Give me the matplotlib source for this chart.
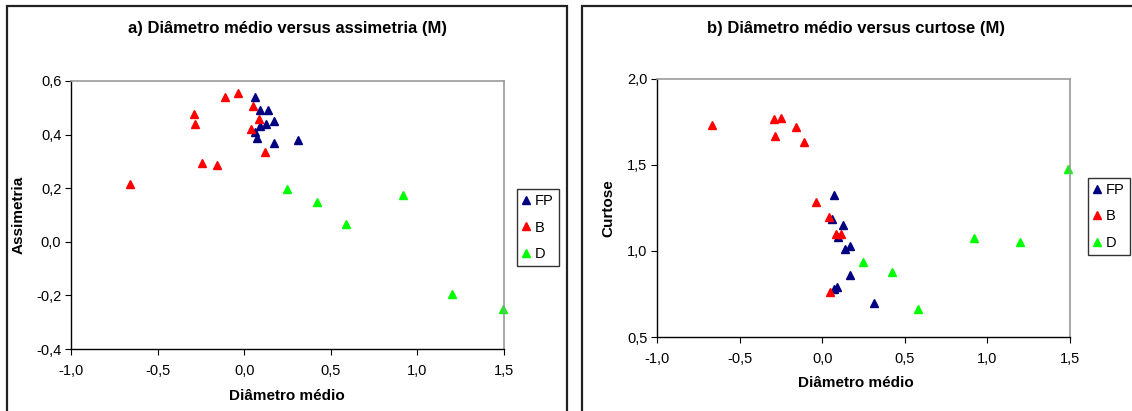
import matplotlib
matplotlib.use("Agg")
import matplotlib.pyplot as plt
from matplotlib.patches import Rectangle
from matplotlib.ticker import FuncFormatter, MultipleLocator

plt.rcParams['font.family'] = ['Liberation Sans', 'DejaVu Sans']

# Panel a) diameter vs skewness
fp_x_a = [0.064, 0.093, 0.139, 0.170, 0.124, 0.093, 0.062, 0.072, 0.170, 0.312]
fp_y_a = [0.539, 0.491, 0.491, 0.452, 0.438, 0.432, 0.409, 0.387, 0.370, 0.380]
b_x_a = [-0.661, -0.292, -0.284, -0.245, -0.155, -0.111, -0.034, 0.049, 0.087, 0.041, 0.118]
b_y_a = [0.217, 0.477, 0.438, 0.295, 0.285, 0.539, 0.555, 0.506, 0.457, 0.422, 0.335]
d_x_a = [0.245, 0.418, 0.586, 0.919, 1.200, 1.492]
d_y_a = [0.198, 0.150, 0.066, 0.175, -0.196, -0.250]

# Panel b) diameter vs kurtosis
fp_x_b = [0.073, 0.057, 0.128, 0.098, 0.168, 0.138, 0.168, 0.091, 0.070, 0.312]
fp_y_b = [1.326, 1.188, 1.149, 1.080, 1.029, 1.012, 0.860, 0.793, 0.777, 0.700]
b_x_b = [-0.665, -0.292, -0.251, -0.284, -0.157, -0.110, -0.038, 0.041, 0.082, 0.112, 0.049]
b_y_b = [1.731, 1.766, 1.775, 1.669, 1.723, 1.632, 1.287, 1.196, 1.099, 1.099, 0.763]
d_x_b = [0.249, 0.423, 0.580, 0.921, 1.197, 1.490]
d_y_b = [0.938, 0.876, 0.665, 1.074, 1.050, 1.477]

series_names = ["FP", "B", "D"]
series_colors = ["#000080", "#FF0000", "#00FF00"]

W, H = 1132, 411
fig = plt.figure(figsize=(W / 100, H / 100), dpi=100)
fig.patch.set_facecolor("white")


def fx(px):
    return px / W


def fy(py):
    return 1 - py / H


# chart-area frames
fig.patches.append(Rectangle((fx(7), fy(420)), fx(567) - fx(7), fy(6) - fy(420),
                             transform=fig.transFigure, fill=False,
                             edgecolor="#222222", linewidth=1.6))
fig.patches.append(Rectangle((fx(582), fy(420)), fx(1140) - fx(582), fy(6) - fy(420),
                             transform=fig.transFigure, fill=False,
                             edgecolor="#222222", linewidth=1.6))

comma = FuncFormatter(lambda v, p: f"{v:.1f}".replace(".", ","))


def make_axes(box, ylim, ystep):
    l, t, r, b = box
    ax = fig.add_axes([fx(l), fy(b), fx(r) - fx(l), fy(t) - fy(b)])
    ax.set_xlim(-1.0, 1.5)
    ax.set_ylim(*ylim)
    ax.xaxis.set_major_locator(MultipleLocator(0.5))
    ax.yaxis.set_major_locator(MultipleLocator(ystep))
    ax.xaxis.set_major_formatter(comma)
    ax.yaxis.set_major_formatter(comma)
    for s in ("left", "bottom"):
        ax.spines[s].set_color("black")
        ax.spines[s].set_linewidth(1.0)
    for s in ("top", "right"):
        ax.spines[s].set_color("#999999")
        ax.spines[s].set_linewidth(1.2)
    ax.tick_params(direction="out", length=4, width=0.8, labelsize=10.5,
                   colors="black", pad=3)
    ax.tick_params(axis="x", pad=7)
    return ax


def draw(ax, xs, ys):
    handles = []
    for x, y, name, c in zip(xs, ys, series_names, series_colors):
        h, = ax.plot(x, y, linestyle="none", marker="^", markersize=5.3,
                     color=c, markeredgecolor=c, label=name, clip_on=False)
        handles.append(h)
    return handles


ax1 = make_axes((71, 81, 504, 349), (-0.4, 0.6), 0.2)
h1 = draw(ax1, [fp_x_a, b_x_a, d_x_a], [fp_y_a, b_y_a, d_y_a])
ax2 = make_axes((657, 79, 1070, 337), (0.5, 2.0), 0.5)
h2 = draw(ax2, [fp_x_b, b_x_b, d_x_b], [fp_y_b, b_y_b, d_y_b])

fig.text(fx(287), fy(29), "a) Diâmetro médio versus assimetria (M)",
         ha="center", va="center", fontsize=12, fontweight="bold")
fig.text(fx(856), fy(29), "b) Diâmetro médio versus curtose (M)",
         ha="center", va="center", fontsize=12, fontweight="bold")
fig.text(fx(287), fy(396), "Diâmetro médio", ha="center", va="center",
         fontsize=11, fontweight="bold")
fig.text(fx(856), fy(383), "Diâmetro médio", ha="center", va="center",
         fontsize=11, fontweight="bold")
fig.text(fx(19), fy(215), "Assimetria", ha="center", va="center",
         rotation=90, fontsize=11, fontweight="bold")
fig.text(fx(608), fy(208), "Curtose", ha="center", va="center",
         rotation=90, fontsize=11, fontweight="bold")

leg_kw = dict(frameon=True, fancybox=False, edgecolor="black", fontsize=10.5,
              handlelength=0.6, handletextpad=0.3, borderpad=0.35,
              labelspacing=0.85, borderaxespad=0)
leg1 = fig.legend(handles=h1, loc="upper left",
                  bbox_to_anchor=(fx(517), fy(189)), **leg_kw)
leg1.get_frame().set_linewidth(1.0)
leg2 = fig.legend(handles=h2, loc="upper left",
                  bbox_to_anchor=(fx(1088), fy(178)), **leg_kw)
leg2.get_frame().set_linewidth(1.0)

fig.savefig("out.png", dpi=100, facecolor="white")
